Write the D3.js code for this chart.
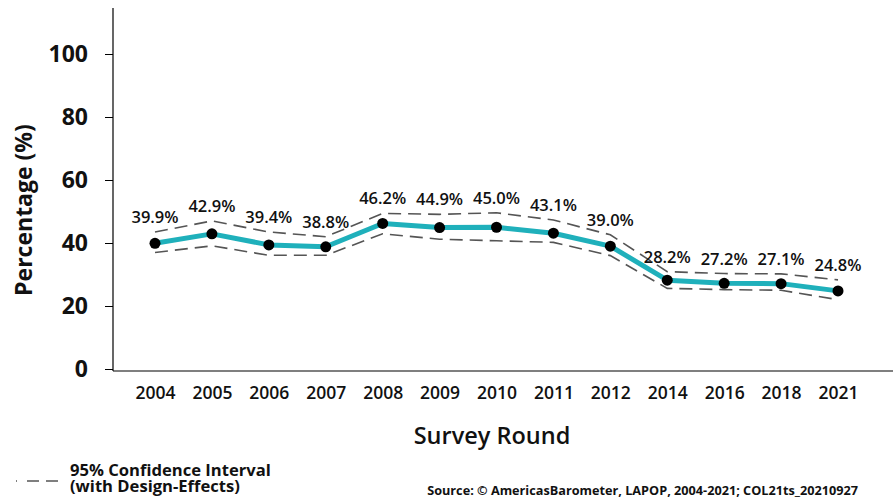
<!DOCTYPE html>
<html>
<head>
<meta charset="utf-8">
<script src="https://cdn.jsdelivr.net/npm/d3@7"></script>
<style>
  body { margin: 0; background: #fff; }
  text { font-family: "Open Sans", sans-serif; }
</style>
</head>
<body>
<div id="canvas"></div>
<script>
const years = ["2004","2005","2006","2007","2008","2009","2010","2011","2012","2014","2016","2018","2021"];
const values = [39.9, 42.9, 39.4, 38.8, 46.2, 44.9, 45.0, 43.1, 39.0, 28.2, 27.2, 27.1, 24.8];
const upper = [43.5, 47.0, 43.5, 42.0, 49.4, 49.1, 49.6, 47.3, 42.6, 30.9, 30.3, 30.2, 28.3];
const lower = [37.0, 39.1, 36.1, 36.1, 42.9, 41.2, 40.7, 40.2, 36.0, 25.6, 25.2, 25.0, 22.0];
const yTicks = [0, 20, 40, 60, 80, 100];

const width = 893;
const height = 500;
const margin = { top: 8, left: 113, bottom: 130, right: 0 };

const svg = d3.select("#canvas").append("svg")
    .attr("width", width)
    .attr("height", height);

const x = d3.scalePoint()
    .domain(years)
    .range([155, 838]);

const y = d3.scaleLinear()
    .domain([0, 100])
    .range([369, 54]);

// y axis
const yAxis = svg.append("g")
    .attr("transform", `translate(${margin.left},0)`)
    .call(d3.axisLeft(y).tickValues(yTicks).tickSize(8).tickPadding(17));
yAxis.select(".domain").remove();
yAxis.selectAll("text")
    .style("font-size", "23px").style("font-weight", "700").attr("fill", "#111");
yAxis.append("line")
    .attr("x1", 0).attr("x2", 0).attr("y1", margin.top).attr("y2", 371)
    .attr("stroke", "#000").attr("stroke-width", 1.2);

// x axis
svg.append("line")
    .attr("x1", margin.left).attr("x2", width).attr("y1", 371).attr("y2", 371)
    .attr("stroke", "#000").attr("stroke-width", 1.2);
const xAxis = svg.append("g")
    .attr("transform", "translate(0,371)")
    .call(d3.axisBottom(x).tickSize(0).tickPadding(16));
xAxis.select(".domain").remove();
xAxis.selectAll("text")
    .style("font-size", "17.5px").style("font-weight", "600").attr("fill", "#111");

// axis titles
svg.append("text")
    .attr("transform", "translate(32,210) rotate(-90)")
    .attr("text-anchor", "middle")
    .style("font-size", "23px").style("font-weight", "700").attr("fill", "#111")
    .text("Percentage (%)");
svg.append("text")
    .attr("x", 492).attr("y", 444)
    .attr("text-anchor", "middle")
    .style("font-size", "23.5px").style("font-weight", "600").attr("fill", "#111")
    .text("Survey Round");

// confidence interval
const ciLine = d3.line().x((d, i) => x(years[i])).y(d => y(d));
[upper, lower].forEach(arr => {
    svg.append("path")
        .datum(arr)
        .attr("d", ciLine)
        .attr("fill", "none")
        .attr("stroke", "#555")
        .attr("stroke-width", 1.6)
        .attr("stroke-dasharray", "13,7");
});

// main line
svg.append("path")
    .datum(values)
    .attr("d", ciLine)
    .attr("fill", "none")
    .attr("stroke", "#1fb0bb")
    .attr("stroke-width", 5)
    .attr("stroke-linejoin", "round");

svg.selectAll("circle.pt").data(values).enter().append("circle")
    .attr("class", "pt")
    .attr("cx", (d, i) => x(years[i]))
    .attr("cy", d => y(d))
    .attr("r", 5.5)
    .attr("fill", "#000");

svg.selectAll("text.lbl").data(values).enter().append("text")
    .attr("class", "lbl")
    .attr("x", (d, i) => x(years[i]))
    .attr("y", (d, i) => y(upper[i]) - 9)
    .attr("text-anchor", "middle")
    .style("font-size", "16.5px").style("font-weight", "600").attr("fill", "#111")
    .text(d => d.toFixed(1) + "%");

// legend
svg.append("line")
    .attr("x1", 16).attr("x2", 58).attr("y1", 481).attr("y2", 481)
    .attr("stroke", "#555").attr("stroke-width", 1.6)
    .attr("stroke-dasharray", "1,10,12,7,12,7");
svg.append("text")
    .attr("x", 70).attr("y", 476)
    .style("font-size", "16.6px").style("font-weight", "700").attr("fill", "#111")
    .text("95% Confidence Interval");
svg.append("text")
    .attr("x", 70).attr("y", 492)
    .style("font-size", "16.6px").style("font-weight", "700").attr("fill", "#111")
    .text("(with Design-Effects)");

// source
svg.append("text")
    .attr("x", 858).attr("y", 495)
    .attr("text-anchor", "end")
    .style("font-size", "12.7px").style("font-weight", "700").attr("fill", "#111")
    .text("Source: © AmericasBarometer, LAPOP, 2004-2021; COL21ts_20210927");
</script>
</body>
</html>
